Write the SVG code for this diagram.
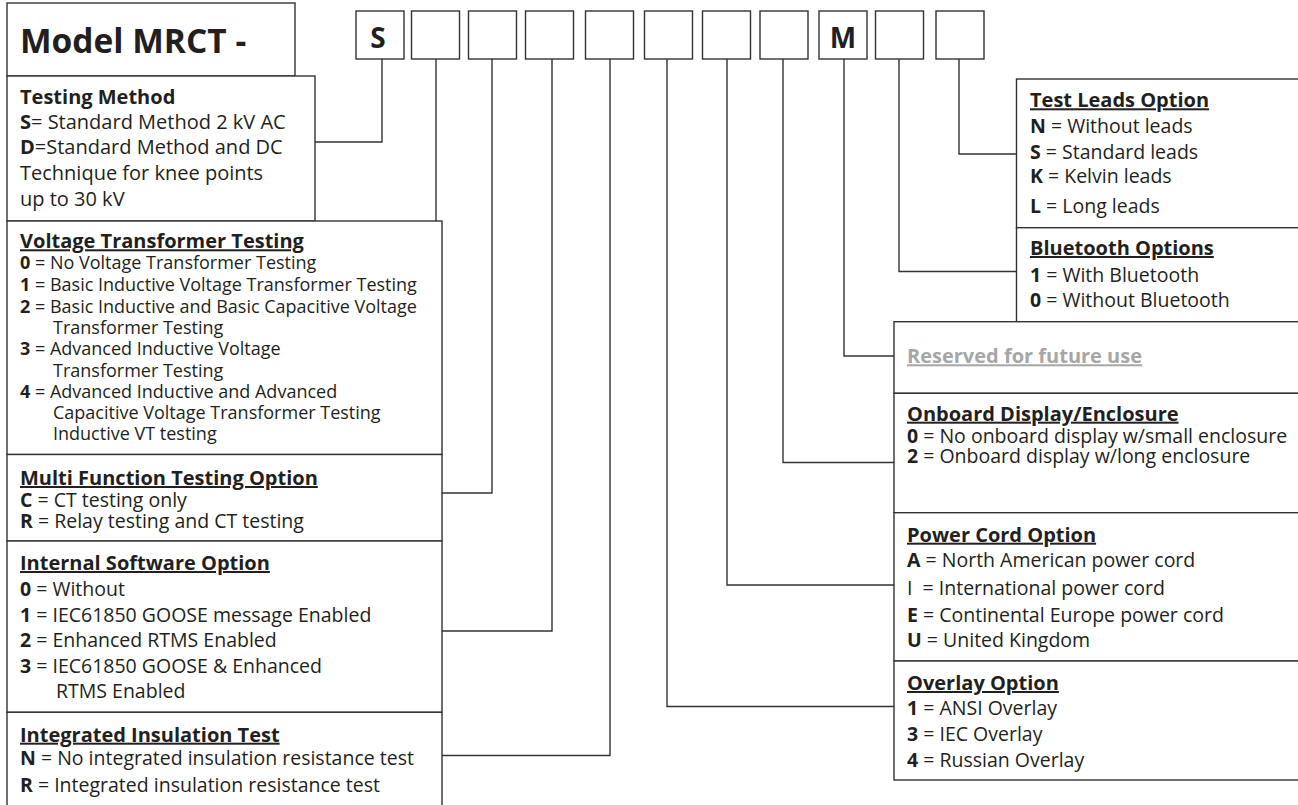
<svg xmlns="http://www.w3.org/2000/svg" width="1298" height="805" viewBox="0 0 1298 805">
<style>
.bx{fill:#fff;stroke:#333;stroke-width:1.4}
.cb{fill:#fff;stroke:#333;stroke-width:1.4}
.ln{fill:none;stroke:#333;stroke-width:1.4}
text{font-family:"Open Sans","Noto Sans","Liberation Sans",sans-serif;fill:#231f20}
.hd{font-size:33.5px;font-weight:700}
.code{font-size:28px;font-weight:700;text-anchor:middle}
.t20{font-size:20px}
.t18{font-size:18px}
.t19{font-size:19.5px}
.ttl{font-weight:700;text-decoration:underline;font-size:20px}
.b{font-weight:700}
.gray{fill:#a6a6a6}
</style>
<g id="connectors">
<polyline class="ln" points="382,59 382,142 315,142"/>
<polyline class="ln" points="436,59 436,221"/>
<polyline class="ln" points="492,59 492,493 442,493"/>
<polyline class="ln" points="552,59 552,631 442,631"/>
<polyline class="ln" points="610,59 610,755.5 442,755.5"/>
<polyline class="ln" points="667,59 667,706.5 894,706.5"/>
<polyline class="ln" points="727,59 727,585 894,585"/>
<polyline class="ln" points="783,59 783,462.5 894,462.5"/>
<polyline class="ln" points="844,59 844,356 894,356"/>
<polyline class="ln" points="899,59 899,271.5 1016.5,271.5"/>
<polyline class="ln" points="959,59 959,154 1016.5,154"/>
</g>
<g id="header">
<rect class="bx" x="7" y="3" width="288" height="73"/>
<text class="hd" x="20" y="53">Model MRCT -</text>
</g>
<g id="code-boxes">
<rect class="cb" x="356" y="11" width="48" height="48"/>
<text class="code" x="378" y="48">S</text>
<rect class="cb" x="411.5" y="11" width="48" height="48"/>
<rect class="cb" x="468.5" y="11" width="48" height="48"/>
<rect class="cb" x="525.5" y="11" width="48" height="48"/>
<rect class="cb" x="585.5" y="11" width="48" height="48"/>
<rect class="cb" x="644.5" y="11" width="48" height="48"/>
<rect class="cb" x="702.5" y="11" width="48" height="48"/>
<rect class="cb" x="760" y="11" width="48" height="48"/>
<rect class="cb" x="819" y="11" width="48" height="48"/>
<text class="code" x="843" y="48">M</text>
<rect class="cb" x="875.5" y="11" width="48" height="48"/>
<rect class="cb" x="936" y="11" width="48" height="48"/>
</g>
<g id="testing-method">
<rect class="bx" x="7" y="76" width="308" height="145"/>
<text class="t20" x="20" y="104"><tspan class="b">Testing Method</tspan></text>
<text class="t20" x="20" y="128.5"><tspan class="b">S</tspan>= Standard Method 2 kV AC</text>
<text class="t20" x="20" y="154.3"><tspan class="b">D</tspan>=Standard Method and DC</text>
<text class="t20" x="20" y="180">Technique for knee points</text>
<text class="t20" x="20" y="205.7">up to 30 kV</text>
</g>
<g id="vt-testing">
<rect class="bx" x="7" y="221" width="435" height="233.5"/>
<text class="t18" x="20" y="248.3"><tspan class="ttl">Voltage Transformer Testing</tspan></text>
<text class="t18" x="20" y="269.3"><tspan class="b">0</tspan> = No Voltage Transformer Testing</text>
<text class="t18" x="20" y="291"><tspan class="b">1</tspan> = Basic Inductive Voltage Transformer Testing</text>
<text class="t18" x="20" y="312.7"><tspan class="b">2</tspan> = Basic Inductive and Basic Capacitive Voltage</text>
<text class="t18" x="53" y="334">Transformer Testing</text>
<text class="t18" x="20" y="355"><tspan class="b">3</tspan> = Advanced Inductive Voltage</text>
<text class="t18" x="53" y="376.7">Transformer Testing</text>
<text class="t18" x="20" y="398.3"><tspan class="b">4</tspan> = Advanced Inductive and Advanced</text>
<text class="t18" x="53" y="419">Capacitive Voltage Transformer Testing</text>
<text class="t18" x="53" y="440">Inductive VT testing</text>
</g>
<g id="multi-function">
<rect class="bx" x="7" y="454.5" width="435" height="86.5"/>
<text class="t19" x="20" y="485"><tspan class="ttl">Multi Function Testing Option</tspan></text>
<text class="t19" x="20" y="506.7"><tspan class="b">C</tspan> = CT testing only</text>
<text class="t19" x="20" y="528.3"><tspan class="b">R</tspan> = Relay testing and CT testing</text>
</g>
<g id="internal-software">
<rect class="bx" x="7" y="541" width="435" height="171.3"/>
<text class="t19" x="20" y="570"><tspan class="ttl">Internal Software Option</tspan></text>
<text class="t19" x="20" y="596"><tspan class="b">0</tspan> = Without</text>
<text class="t19" x="20" y="621.7"><tspan class="b">1</tspan> = IEC61850 GOOSE message Enabled</text>
<text class="t19" x="20" y="646.7"><tspan class="b">2</tspan> = Enhanced RTMS Enabled</text>
<text class="t19" x="20" y="672.7"><tspan class="b">3</tspan> = IEC61850 GOOSE &amp; Enhanced</text>
<text class="t19" x="56" y="697.7">RTMS Enabled</text>
</g>
<g id="insulation-test">
<rect class="bx" x="7" y="712.3" width="435" height="110"/>
<text class="t19" x="20" y="741.7"><tspan class="ttl">Integrated Insulation Test</tspan></text>
<text class="t19" x="20" y="765"><tspan class="b">N</tspan> = No integrated insulation resistance test</text>
<text class="t19" x="20" y="791.7"><tspan class="b">R</tspan> = Integrated insulation resistance test</text>
</g>
<g id="test-leads">
<rect class="bx" x="1016.5" y="79" width="300" height="148.7"/>
<text class="t19" x="1030" y="107.3"><tspan class="ttl">Test Leads Option</tspan></text>
<text class="t19" x="1030" y="133.3"><tspan class="b">N</tspan> = Without leads</text>
<text class="t19" x="1030" y="159"><tspan class="b">S</tspan> = Standard leads</text>
<text class="t19" x="1030" y="183.3"><tspan class="b">K</tspan> = Kelvin leads</text>
<text class="t19" x="1030" y="213.3"><tspan class="b">L</tspan> = Long leads</text>
</g>
<g id="bluetooth">
<rect class="bx" x="1016.5" y="227.7" width="300" height="94"/>
<text class="t19" x="1030" y="255"><tspan class="ttl">Bluetooth Options</tspan></text>
<text class="t19" x="1030" y="281.7"><tspan class="b">1</tspan> = With Bluetooth</text>
<text class="t19" x="1030" y="306.7"><tspan class="b">0</tspan> = Without Bluetooth</text>
</g>
<g id="reserved">
<rect class="bx" x="894" y="321.7" width="420" height="71.6"/>
<text class="t19 gray" x="907" y="363.3"><tspan class="ttl">Reserved for future use</tspan></text>
</g>
<g id="onboard-display">
<rect class="bx" x="894" y="393.3" width="420" height="119.4"/>
<text class="t19" x="907" y="420.7"><tspan class="ttl">Onboard Display/Enclosure</tspan></text>
<text class="t19" x="907" y="442.7"><tspan class="b">0</tspan> = No onboard display w/small enclosure</text>
<text class="t19" x="907" y="463.3"><tspan class="b">2</tspan> = Onboard display w/long enclosure</text>
</g>
<g id="power-cord">
<rect class="bx" x="894" y="512.7" width="420" height="148.3"/>
<text class="t19" x="907" y="541.7"><tspan class="ttl">Power Cord Option</tspan></text>
<text class="t19" x="907" y="566.7"><tspan class="b">A</tspan> = North American power cord</text>
<text class="t19" x="907" y="595">I &#160;= International power cord</text>
<text class="t19" x="907" y="621.7"><tspan class="b">E</tspan> = Continental Europe power cord</text>
<text class="t19" x="907" y="646.7"><tspan class="b">U</tspan> = United Kingdom</text>
</g>
<g id="overlay">
<rect class="bx" x="894" y="661" width="420" height="119"/>
<text class="t19" x="907" y="690"><tspan class="ttl">Overlay Option</tspan></text>
<text class="t19" x="907" y="715"><tspan class="b">1</tspan> = ANSI Overlay</text>
<text class="t19" x="907" y="740.7"><tspan class="b">3</tspan> = IEC Overlay</text>
<text class="t19" x="907" y="766.7"><tspan class="b">4</tspan> = Russian Overlay</text>
</g>
</svg>
